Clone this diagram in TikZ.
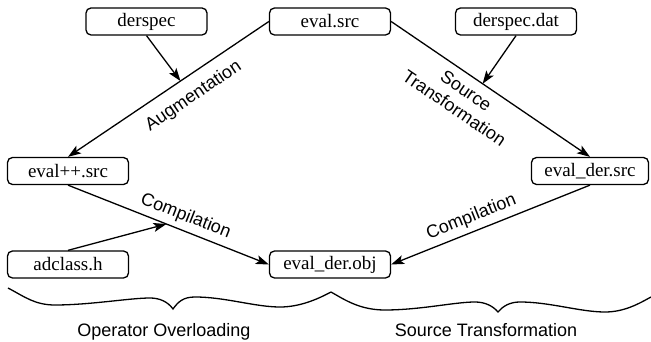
\documentclass[tikz,border=0pt]{standalone}
\usepackage{fontspec}
\setmainfont{Liberation Serif}
\setsansfont{Liberation Sans}
\newfontfamily\filefont{Liberation Serif}
\newfontfamily\stagefont{Liberation Sans}
\usetikzlibrary{arrows.meta}

\begin{document}
\begin{tikzpicture}[x=1pt,y=1pt,line width=1.3pt,
  file/.style={draw,rounded corners=5pt,minimum width=121pt,minimum height=27pt,inner sep=0pt,font=\filefont\fontsize{19}{22}\selectfont},
  flow/.style={-{Stealth[length=13pt,width=9pt,inset=3pt]}},
  stage/.style={font=\stagefont\fontsize{18}{21}\selectfont,sloped},
  part/.style={font=\stagefont\fontsize{18}{21}\selectfont,anchor=base}]
\useasboundingbox (0,0) rectangle (651,342);
% Files
\node [file] (derspec) at (146.5,320.5) {derspec};
\node [file] (evalsrc) at (330,320.5) {eval.src};
\node [file] (derspecdat) at (516,320.5) {derspec.dat};
\node [file] (evalpp) at (68,171) {eval++.src};
\node [file,minimum width=117pt] (dersrc) at (590,171) {eval\_der.src};
\node [file] (adclass) at (68,77.5) {adclass.h};
\node [file] (derobj) at (330,77.5) {eval\_der.obj};
% Augmentation
\draw [flow] (evalsrc.west) -- node [stage,pos=0.43,below,inner sep=11pt] (augment) {Augmentation}
  coordinate [pos=0.44] (augjoin) (evalpp.north);
\draw [flow] (derspec.south) -- (augjoin);
% Source transformation
\draw [flow] (evalsrc.east) -- node [stage,pos=0.42,below,inner sep=6pt] (srclabel)
  {\begin{tabular}{@{}c@{}}Source\\Transformation\end{tabular}}
  coordinate [pos=0.46] (srcjoin) (dersrc.north);
\draw [flow] (derspecdat.south) -- (srcjoin);
% Compilation
\draw [flow] (evalpp.south) -- node [stage,pos=0.56,above,inner sep=5pt] (compleft) {Compilation}
  coordinate [pos=0.49] (compjoin) (derobj.west);
\draw [flow] (adclass.north) -- (compjoin);
\draw [flow] (dersrc.south) -- node [stage,pos=0.57,above,inner sep=5pt] (compright) {Compilation} (derobj.east);
% Braces
\draw (8,54) .. controls (25,45) and (35,37) .. (55,37) .. controls (90,37) and (130,44) .. (150,44)
  .. controls (160,44) and (168,40) .. (173,33) .. controls (178,40) and (183,45) .. (195,45)
  .. controls (225,45) and (255,35) .. (280,35) .. controls (300,35) and (318,43) .. (331,50);
\draw (331,50) .. controls (345,42) and (360,32) .. (385,32) .. controls (420,32) and (455,40) .. (475,40)
  .. controls (485,40) and (493,36) .. (498,30) .. controls (503,36) and (510,40) .. (520,40)
  .. controls (550,40) and (580,30) .. (605,30) .. controls (625,30) and (640,39) .. (651,45);
\node [part] (opover) at (164,5) {Operator Overloading};
\node [part] (srctrans) at (486,5) {Source Transformation};
\end{tikzpicture}
\end{document}
